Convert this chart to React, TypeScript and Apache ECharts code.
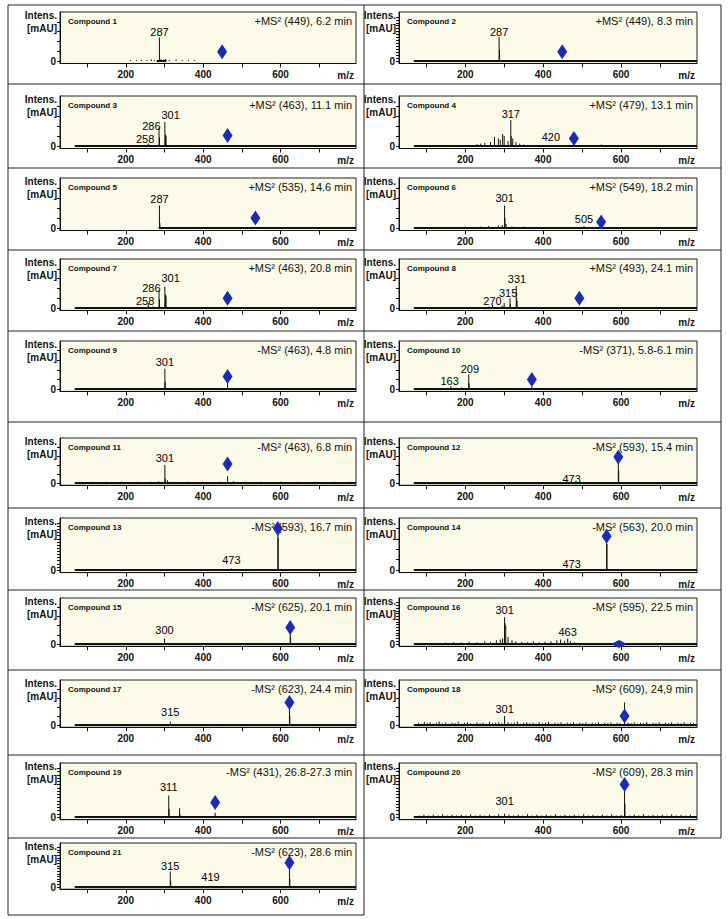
import React, { useEffect, useRef } from "react";
import * as echarts from "echarts";

type Pk = [number, number];
type Lb = [number, number, string];

const names = Array.from({ length: 21 }, (_, i) => "Compound " + (i + 1));
const headers = [
  "+MS² (449), 6.2 min", "+MS² (449), 8.3 min", "+MS² (463), 11.1 min", "+MS² (479), 13.1 min",
  "+MS² (535), 14.6 min", "+MS² (549), 18.2 min", "+MS² (463), 20.8 min", "+MS² (493), 24.1 min",
  "-MS² (463), 4.8 min", "-MS² (371), 5.8-6.1 min", "-MS² (463), 6.8 min", "-MS² (593), 15.4 min",
  "-MS² (593), 16.7 min", "-MS² (563), 20.0 min", "-MS² (625), 20.1 min", "-MS² (595), 22.5 min",
  "-MS² (623), 24.4 min", "-MS² (609), 24,9 min", "-MS² (431), 26.8-27.3 min", "-MS² (609), 28.3 min",
  "-MS² (623), 28.6 min",
];
const xTicks = [100, 200, 300, 400, 500, 600, 700];
const xLabels = [200, 400, 600];
const yTicksSparse = [0, 20, 40, 60, 80];
const yTicksDense = [0, 6, 12, 18, 24, 30, 36, 42, 48, 54, 60, 66, 72, 78, 84, 90];
const denseTickPanels = [2, 13, 16, 19, 20, 21];
const yLabels = [0];

const precursorMz = [449, 449, 463, 479, 535, 549, 463, 493, 463, 371, 463, 593, 593, 563, 625, 595, 623, 609, 431, 609, 623];
const precursorY = [19, 19, 21, 15, 20, 12, 20, 20, 26, 20, 42, 58, 80, 65, 36, 0, 50, 20, 27, 60, 55];

const baselines: [number, number][] = [
  [280, 305], [68, 795], [68, 795], [68, 795], [285, 795], [68, 795], [68, 795], [68, 795],
  [68, 795], [68, 795], [68, 795], [68, 795], [68, 795], [68, 795], [68, 795], [68, 795],
  [68, 795], [68, 795], [68, 795], [68, 795], [68, 795],
];

const peaks1: Pk[] = [[287, 48], [288, 4], [212, 2], [228, 2], [240, 3], [255, 2], [266, 3], [274, 2], [292, 3], [298, 3], [303, 4], [312, 2], [330, 3], [346, 2], [362, 2], [378, 2]];
const peaks2: Pk[] = [[287, 49], [288, 23]];
const peaks3: Pk[] = [[301, 48], [302, 10], [303, 23], [304, 20], [286, 37], [287, 17], [258, 5], [259, 3], [240, 2], [270, 2], [320, 2]];
const peaks4: Pk[] = [[317, 52], [318, 20], [296, 24], [300, 20], [290, 12], [285, 15], [275, 18], [265, 8], [250, 6], [240, 5], [230, 4], [310, 10], [322, 15], [330, 8], [340, 5], [350, 3], [550, 3]];
const peaks5: Pk[] = [[287, 45], [288, 10]];
const peaks6: Pk[] = [[301, 45], [302, 20], [160, 2], [200, 3], [240, 3], [260, 4], [285, 5], [295, 6], [305, 8], [320, 3], [350, 3], [400, 2], [440, 2], [505, 4]];
const peaks7: Pk[] = [[301, 44], [302, 12], [303, 28], [304, 24], [286, 36], [287, 18], [258, 10], [259, 5], [240, 2], [270, 3]];
const peaks8: Pk[] = [[331, 45], [332, 20], [333, 15], [315, 20], [316, 8], [300, 10], [295, 5], [270, 6], [260, 3]];
const peaks9: Pk[] = [[301, 42], [302, 15], [463, 26], [250, 2], [350, 2], [420, 2]];
const peaks10: Pk[] = [[209, 30], [210, 12], [163, 6], [190, 3], [230, 2], [300, 2], [371, 5]];
const peaks11: Pk[] = [[301, 40], [302, 10], [463, 15], [80, 3], [95, 2], [110, 3], [130, 2], [150, 3], [175, 2], [190, 3], [210, 2], [230, 3], [250, 2], [265, 3], [285, 4], [308, 6], [320, 3], [340, 2], [360, 3], [380, 2], [400, 3], [420, 2], [445, 3], [478, 4], [490, 2], [510, 3], [530, 2], [550, 3], [575, 2], [600, 3], [620, 2], [645, 3], [670, 2], [690, 3], [715, 2], [740, 3], [760, 2], [780, 3]];
const peaks12: Pk[] = [[593, 58], [594, 28], [473, 3], [350, 2], [430, 2]];
const peaks13: Pk[] = [[593, 80], [594, 62], [473, 3], [400, 2]];
const peaks14: Pk[] = [[563, 65], [564, 50], [473, 3], [350, 2]];
const peaks15: Pk[] = [[300, 12], [625, 36], [626, 15]];
const peaks16: Pk[] = [[150, 3], [170, 4], [190, 3], [210, 5], [230, 4], [250, 6], [265, 5], [280, 8], [290, 10], [296, 12], [301, 58], [302, 45], [304, 40], [310, 15], [320, 8], [330, 6], [345, 5], [360, 4], [375, 6], [390, 4], [405, 5], [420, 6], [435, 8], [445, 10], [455, 7], [463, 12], [470, 6], [480, 4], [520, 2], [560, 2]];
const peaks17: Pk[] = [[315, 8], [623, 60], [624, 20], [200, 2], [450, 2]];
const peaks18: Pk[] = [[80, 5], [88, 3], [95, 7], [103, 4], [110, 6], [118, 3], [126, 5], [133, 8], [141, 4], [150, 6], [158, 3], [166, 5], [174, 4], [182, 7], [190, 3], [198, 5], [206, 6], [214, 4], [222, 3], [230, 6], [238, 4], [246, 5], [254, 3], [262, 7], [270, 4], [278, 5], [286, 6], [294, 4], [301, 20], [310, 6], [318, 4], [326, 5], [334, 7], [342, 3], [350, 5], [358, 6], [366, 4], [374, 5], [382, 3], [390, 6], [398, 4], [406, 5], [414, 7], [422, 3], [430, 5], [438, 4], [446, 6], [454, 3], [462, 5], [470, 4], [478, 6], [486, 3], [494, 5], [502, 4], [510, 6], [518, 3], [526, 5], [534, 4], [542, 6], [550, 3], [558, 5], [566, 4], [574, 6], [582, 3], [590, 5], [598, 4], [609, 50], [618, 5], [626, 4], [634, 6], [642, 3], [650, 5], [658, 4], [666, 6], [674, 3], [682, 5], [690, 4], [698, 6], [706, 3], [714, 5], [722, 4], [730, 6], [738, 3], [746, 5], [754, 4], [762, 6], [770, 3], [778, 5], [786, 4]];
const peaks19: Pk[] = [[311, 40], [312, 15], [339, 16], [340, 5], [431, 8], [80, 2], [120, 2], [160, 2], [200, 2], [250, 2], [380, 2], [500, 2], [600, 2], [700, 2], [750, 2]];
const peaks20: Pk[] = [[609, 60], [610, 25], [82, 3], [94, 4], [106, 3], [118, 4], [130, 3], [142, 5], [154, 3], [166, 4], [178, 3], [190, 4], [202, 3], [214, 5], [226, 3], [238, 4], [250, 3], [262, 4], [274, 3], [286, 5], [301, 6], [312, 4], [324, 3], [336, 4], [348, 3], [360, 5], [372, 3], [384, 4], [396, 3], [408, 4], [420, 3], [432, 5], [444, 3], [456, 4], [468, 3], [480, 4], [492, 3], [504, 5], [516, 3], [528, 4], [540, 3], [552, 4], [564, 3], [576, 5], [588, 3], [600, 4], [622, 3], [634, 4], [646, 3], [658, 5], [670, 3], [682, 4], [694, 3], [706, 4], [718, 3], [730, 5], [742, 3], [754, 4], [766, 3], [778, 4]];
const peaks21: Pk[] = [[315, 35], [316, 15], [419, 3], [623, 55], [624, 18], [100, 2], [150, 2], [200, 2], [250, 2], [350, 2], [380, 2], [450, 2], [500, 2], [550, 2], [660, 2], [700, 2], [750, 2]];

const labels1: Lb[] = [[287, 60, "287"]];
const labels2: Lb[] = [[287, 60, "287"]];
const labels3: Lb[] = [[316, 62, "301"], [266, 40, "286"], [250, 14, "258"]];
const labels4: Lb[] = [[317, 65, "317"], [420, 18, "420"]];
const labels5: Lb[] = [[287, 58, "287"]];
const labels6: Lb[] = [[301, 60, "301"], [505, 18, "505"]];
const labels7: Lb[] = [[316, 62, "301"], [266, 40, "286"], [250, 14, "258"]];
const labels8: Lb[] = [[333, 60, "331"], [310, 30, "315"], [270, 14, "270"]];
const labels9: Lb[] = [[301, 56, "301"]];
const labels10: Lb[] = [[160, 16, "163"], [212, 42, "209"]];
const labels11: Lb[] = [[301, 55, "301"]];
const labels12: Lb[] = [[473, 10, "473"]];
const labels13: Lb[] = [[473, 20, "473"]];
const labels14: Lb[] = [[473, 12, "473"]];
const labels15: Lb[] = [[300, 30, "300"]];
const labels16: Lb[] = [[301, 73, "301"], [463, 27, "463"]];
const labels17: Lb[] = [[315, 28, "315"]];
const labels18: Lb[] = [[301, 35, "301"]];
const labels19: Lb[] = [[311, 55, "311"]];
const labels20: Lb[] = [[301, 30, "301"]];
const labels21: Lb[] = [[315, 48, "315"], [419, 22, "419"]];

const peaksAll = [peaks1, peaks2, peaks3, peaks4, peaks5, peaks6, peaks7, peaks8, peaks9, peaks10, peaks11, peaks12, peaks13, peaks14, peaks15, peaks16, peaks17, peaks18, peaks19, peaks20, peaks21];
const labelsAll = [labels1, labels2, labels3, labels4, labels5, labels6, labels7, labels8, labels9, labels10, labels11, labels12, labels13, labels14, labels15, labels16, labels17, labels18, labels19, labels20, labels21];

const FONT = "'Liberation Sans', Arial, sans-serif";

export default function App() {
  const ref = useRef<HTMLDivElement>(null);
  useEffect(() => {
    document.body.style.margin = "0";
    const chart = echarts.init(ref.current!, null, { renderer: "svg" });
    const plotTop = [12, 96, 178, 259, 341, 438, 518, 598, 680, 763, 843];
    const zeroY = [61, 146, 228, 308, 389, 483, 570, 644, 725, 817, 887];
    const colL = [60, 399];
    const colR = [356, 697];
    const dividers = [5, 84, 168, 250, 331, 422, 508, 590, 670, 755, 838, 915];

    const grids: any[] = [];
    const xAxes: any[] = [];
    const yAxes: any[] = [];
    const series: any[] = [];
    const graphics: any[] = [];

    for (let i = 0; i < 21; i++) {
      const row = Math.floor(i / 2);
      const col = i % 2;
      const top = plotTop[row];
      const h = (zeroY[row] - top) * 1.05;
      const left = colL[col];
      const w = colR[col] - colL[col];
      const dense = denseTickPanels.indexOf(i + 1) >= 0;
      grids.push({
        left, top, width: w, height: h, show: true,
        backgroundColor: "#fcfbea", borderColor: "#222", borderWidth: 1,
      });
      xAxes.push({
        gridIndex: i, type: "value", min: 30, max: 795,
        axisLine: { onZero: false, lineStyle: { color: "#111", width: 1 } },
        axisTick: { customValues: xTicks, length: 4, lineStyle: { color: "#111" } },
        axisLabel: { customValues: xLabels, fontSize: 10, fontWeight: "bold", color: "#111", fontFamily: FONT, margin: 6 },
        splitLine: { show: false },
      });
      yAxes.push({
        gridIndex: i, type: "value", min: -5, max: 100,
        axisLine: { show: true, lineStyle: { color: "#111" } },
        axisTick: { customValues: dense ? yTicksDense : yTicksSparse, length: 3, lineStyle: { color: "#111" } },
        axisLabel: { customValues: yLabels, fontSize: 10, fontWeight: "bold", color: "#111", fontFamily: FONT, margin: 4 },
        splitLine: { show: false },
      });
      const b = baselines[i];
      series.push({
        type: "line", xAxisIndex: i, yAxisIndex: i, data: [[b[0], 0], [b[1], 0]],
        symbol: "none", lineStyle: { color: "#111", width: 2 }, silent: true, z: 3,
      });
      series.push({
        type: "bar", xAxisIndex: i, yAxisIndex: i, data: peaksAll[i], barWidth: 1,
        itemStyle: { color: "#111" }, silent: true, z: 4,
      });
      series.push({
        type: "scatter", xAxisIndex: i, yAxisIndex: i,
        data: [[precursorMz[i], precursorY[i]]], symbol: "diamond",
        symbolSize: i === 15 ? [16, 8] : [10, 15],
        itemStyle: { color: "#1a2bb5", opacity: 1 }, silent: true, z: 6,
      });
      series.push({
        type: "scatter", xAxisIndex: i, yAxisIndex: i,
        data: labelsAll[i].map((l) => ({ value: [l[0], l[1]], name: l[2] })),
        symbolSize: 0, itemStyle: { color: "#000", opacity: 1 }, silent: true, z: 7,
        label: {
          show: true, position: "inside", formatter: "{b}", fontSize: 11, color: "#000",
          fontFamily: FONT, textBorderWidth: 0, opacity: 1,
        },
      });

      graphics.push(
        { type: "text", left: left + 8, top: top + 5, style: { text: names[i], font: `bold 8px ${FONT}`, fill: "#111" } },
        { type: "text", right: 728 - (colR[col] - 4), top: top + 3, style: { text: headers[i], font: `11px ${FONT}`, fill: "#111" } },
        { type: "text", right: 728 - (left - 3), top: top - 2, style: { text: "Intens.", font: `bold 10px ${FONT}`, fill: "#111" } },
        { type: "text", right: 728 - (left - 3), top: top + 11, style: { text: "[mAU]", font: `bold 10px ${FONT}`, fill: "#111" } },
        { type: "text", right: 728 - (colR[col] - 2), top: top + h + 7, style: { text: "m/z", font: `bold 10px ${FONT}`, fill: "#111" } },
      );
    }

    const fr = (x1: number, y1: number, x2: number, y2: number) => ({
      type: "line", shape: { x1, y1, x2, y2 }, style: { stroke: "#222", lineWidth: 1 }, silent: true,
    });
    graphics.push(fr(8, dividers[0], 8, dividers[11]));
    graphics.push(fr(364, dividers[0], 364, dividers[11]));
    graphics.push(fr(721, dividers[0], 721, dividers[10]));
    for (let r = 0; r < 11; r++) graphics.push(fr(8, dividers[r], 721, dividers[r]));
    graphics.push(fr(8, dividers[11], 364, dividers[11]));

    chart.setOption({
      animation: false,
      backgroundColor: "#ffffff",
      grid: grids,
      xAxis: xAxes,
      yAxis: yAxes,
      series,
      graphic: graphics,
    });
    return () => chart.dispose();
  }, []);
  return <div ref={ref} style={{ width: 728, height: 919 }} />;
}
